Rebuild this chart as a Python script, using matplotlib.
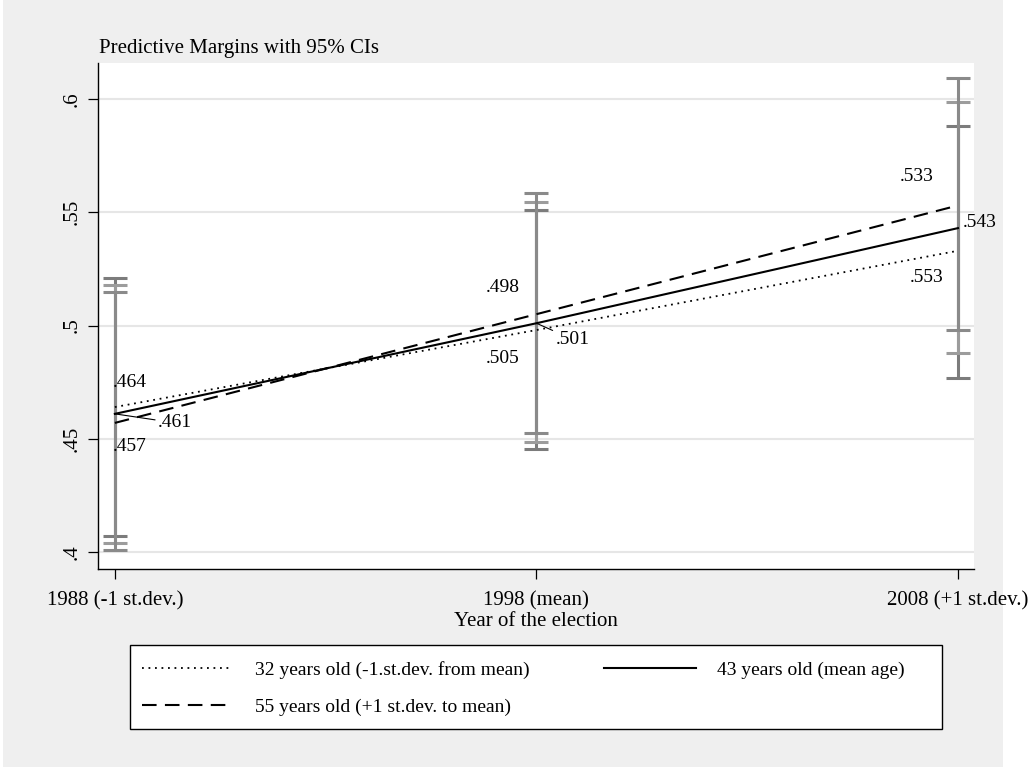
import matplotlib
matplotlib.use('Agg')
import matplotlib.pyplot as plt
from matplotlib.patches import Rectangle

plt.rcParams['font.family'] = ['Liberation Serif', 'DejaVu Serif']

years = ['1988 (-1 st.dev.)', '1998 (mean)', '2008 (+1 st.dev.)']
xpos = [0, 1, 2]

# predictive margins and 95% CI bounds, by age group
m32 = [0.464, 0.498, 0.533]
lo32 = [0.407, 0.4455, 0.4768]
hi32 = [0.521, 0.551, 0.588]

m43 = [0.461, 0.501, 0.543]
lo43 = [0.404, 0.4486, 0.4879]
hi43 = [0.518, 0.5545, 0.5987]

m55 = [0.457, 0.505, 0.553]
lo55 = [0.401, 0.4525, 0.498]
hi55 = [0.515, 0.5585, 0.6093]

yticks = [0.4, 0.45, 0.5, 0.55, 0.6]
yticklabels = ['.4', '.45', '.5', '.55', '.6']

legend_labels = ['32 years old (-1.st.dev. from mean)',
                 '43 years old (mean age)',
                 '55 years old (+1 st.dev. to mean)']

W, H = 1034, 767
fig = plt.figure(figsize=(W/100, H/100), dpi=100)
fig.patch.set_facecolor('white')
fig.patches.append(Rectangle((3/W, 0), 1000/W, 1, transform=fig.transFigure,
                             facecolor='#efefef', edgecolor='none', zorder=-10))

ax = fig.add_axes([98/W, 1-569/H, 876/W, 506/H])
ax.set_facecolor('white')

ax.set_xlim(-0.04, 2.038)
ax.set_ylim(0.3925, 0.6159)

for y in yticks:
    ax.axhline(y, color='#e6e6e6', lw=1.5, zorder=0)

def cibar(m, lo, hi, col):
    ax.errorbar(xpos, m, yerr=[[a-b for a, b in zip(m, lo)], [b-a for a, b in zip(m, hi)]],
                fmt='none', ecolor=col, elinewidth=2.2, capsize=8.5, capthick=2.2, zorder=2)

cibar(m32, lo32, hi32, '#7c7c7c')
cibar(m43, lo43, hi43, '#9c9c9c')
cibar(m55, lo55, hi55, '#8a8a8a')

l32, = ax.plot(xpos, m32, color='black', lw=1.3, linestyle=(0, (1, 2.6)), zorder=3)
l43, = ax.plot(xpos, m43, color='black', lw=1.5, linestyle='-', zorder=3)
l55, = ax.plot(xpos, m55, color='black', lw=1.5, linestyle=(0, (7, 4)), zorder=3)

# marker labels (offsets in pixels from each point)
def labels(m, offs, has, leader=()):
    for i, (v, (dx, dy), ha) in enumerate(zip(m, offs, has)):
        kw = {}
        if i in leader:
            kw['arrowprops'] = dict(arrowstyle='-', lw=0.8, color='black', shrinkA=0, shrinkB=0)
        ax.annotate(('%.3f' % v)[1:], (xpos[i], v), xytext=(dx, dy),
                    textcoords='offset pixels', ha=ha, va='center', fontsize=14, zorder=4, **kw)

labels(m32, [(-2, 25), (-17, 43), (-24, 74)], ['left', 'right', 'right'])
labels(m43, [(43, -9), (19, -16), (5, 6)], ['left', 'left', 'left'], leader=(0, 1))
labels(m55, [(-2, -24), (-17, -44), (-14, -72)], ['left', 'right', 'right'])

for s in ['top', 'right']:
    ax.spines[s].set_visible(False)
for s in ['left', 'bottom']:
    ax.spines[s].set_linewidth(1.0)

ax.set_xticks(xpos)
ax.set_xticklabels(years, fontsize=15)
ax.set_yticks(yticks)
ax.set_yticklabels(yticklabels, fontsize=15, rotation=90, va='center')
ax.tick_params(axis='both', length=7, width=0.9)
ax.tick_params(axis='x', pad=9)
ax.tick_params(axis='y', pad=5)
ax.set_xlabel('Year of the election', fontsize=15, labelpad=1)

fig.text(99/W, 1-53/H, 'Predictive Margins with 95% CIs', fontsize=15, va='baseline', ha='left')

# legend box drawn separately, entries placed inside it
fig.patches.append(Rectangle((130/W, 1-729/H), 812/W, 84/H, transform=fig.transFigure,
                             facecolor='white', edgecolor='black', lw=1.0, zorder=1))
leg = fig.legend([l32, l55, l43], [legend_labels[0], legend_labels[2], legend_labels[1]],
                 loc='upper left', bbox_to_anchor=(142/W, 1-661/H),
                 ncol=2, fontsize=14, handlelength=4.7, handletextpad=1.1,
                 columnspacing=3.85, labelspacing=0.98,
                 frameon=False, borderpad=0, borderaxespad=0)

fig.savefig('out.png', dpi=100)
